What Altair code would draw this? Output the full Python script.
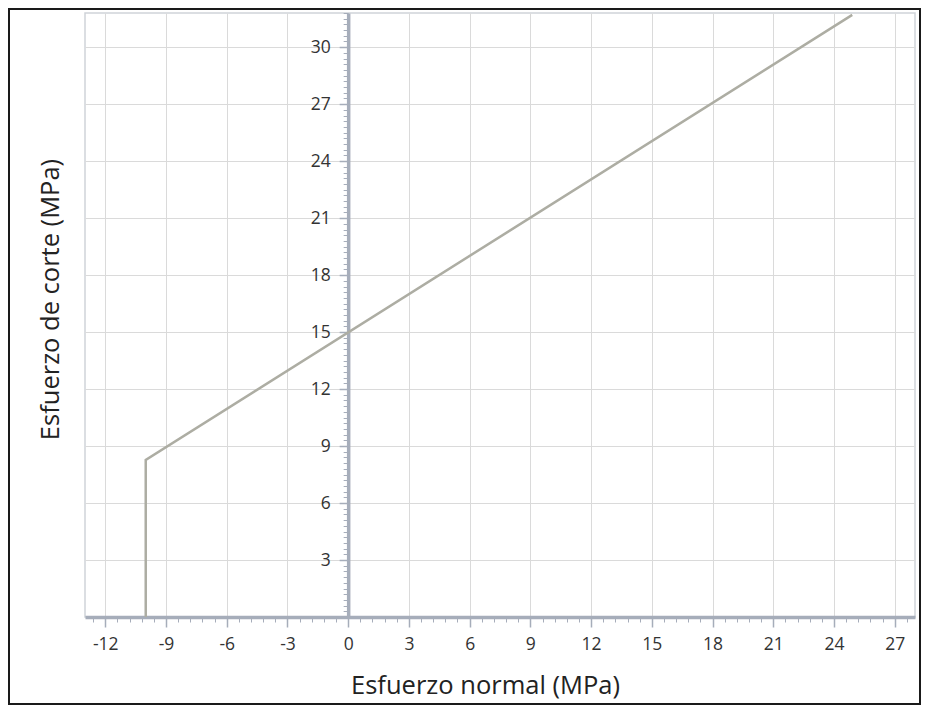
import altair as alt
import pandas as pd

# Mohr-Coulomb envelope with tension cut-off
normal_stress = [-10.0, -10.0, 24.9]
shear_stress = [0.0, 8.27, 31.7]
point_order = [0, 1, 2]

x_major = [-12, -9, -6, -3, 0, 3, 6, 9, 12, 15, 18, 21, 24, 27]
y_major = [3, 6, 9, 12, 15, 18, 21, 24, 27, 30]
x_minor = [round(k * 0.6, 1) for k in range(-21, 47)]
y_minor = [round(k * 0.3, 1) for k in range(1, 107)]

x_domain = [-13, 28]
y_domain = [0, 31.8]

W, H = 830, 604
FONT = "Open Sans"
AX = "#a6adba"
GRID = "#dadada"
LINE = "#adada3"
LABEL_EXPR = "'' + datum.value"

df = pd.DataFrame({"normal": normal_stress, "shear": shear_stress, "ord": point_order})
frame_df = pd.DataFrame({"k": [0]})

xs = alt.Scale(domain=x_domain, nice=False, zero=False)
ys = alt.Scale(domain=y_domain, nice=False, zero=False)
# move the y axis so that it crosses the x axis at zero
yoff = {"expr": "-scale('x', 0)"}

base = alt.Chart(df)

main = base.mark_line(color=LINE, strokeWidth=2.5).encode(
    x=alt.X("normal:Q", scale=xs, axis=alt.Axis(
        orient="bottom", values=x_major, labelExpr=LABEL_EXPR, title="Esfuerzo normal (MPa)",
        grid=True, gridColor=GRID, gridWidth=1,
        domainColor=AX, domainWidth=3.5, tickColor=AX, tickSize=10, tickWidth=1.5,
        labelPadding=8, labelFontSize=17.5, labelFlush=False, labelOverlap=False,
        titlePadding=21, titleX=400)),
    y=alt.Y("shear:Q", scale=ys, axis=alt.Axis(
        orient="left", values=y_major, grid=True, gridColor=GRID, gridWidth=1,
        domain=False, ticks=False, labels=False, title=None)),
    order=alt.Order("ord:Q"),
)

yaxis = base.mark_line(strokeOpacity=0).encode(
    x=alt.X("normal:Q", scale=xs, axis=alt.Axis(
        orient="bottom", values=x_minor, labels=False, domain=False, grid=False,
        tickColor=AX, tickSize=5, tickWidth=1, title=None)),
    y=alt.Y("shear:Q", scale=ys, axis=alt.Axis(
        orient="left", values=y_major, labelExpr=LABEL_EXPR, offset=yoff, grid=False,
        domainColor=AX, domainWidth=3.5, tickColor=AX, tickSize=9, tickWidth=1.5,
        labelPadding=9, labelFontSize=17.5, labelFlush=False, labelOverlap=False,
        title="Esfuerzo de corte (MPa)", titleX=-285, titleY=286)),
    order=alt.Order("ord:Q"),
)

yminor = base.mark_line(strokeOpacity=0).encode(
    x=alt.X("normal:Q", scale=xs, axis=None),
    y=alt.Y("shear:Q", scale=ys, axis=alt.Axis(
        orient="left", values=y_minor, offset=yoff, labels=False, domain=False,
        grid=False, tickColor=AX, tickSize=5, tickWidth=1, title=None)),
    order=alt.Order("ord:Q"),
)

frame = alt.Chart(frame_df).mark_rect(
    fillOpacity=0, stroke="#1a1a1a", strokeWidth=2
).encode(
    x=alt.value(-76), x2=alt.value(W + 5),
    y=alt.value(-4), y2=alt.value(H + 87),
)

chart = alt.layer(main, yaxis, yminor, frame).resolve_axis(
    x="independent", y="independent"
).properties(
    width=W, height=H,
    padding={"left": 77, "top": 5, "right": 6, "bottom": 88},
    autosize=alt.AutoSizeParams(type="none"),
).configure_view(
    stroke="#cfd3d9", strokeWidth=1.5
).configure_axis(
    labelFont=FONT, labelColor="#333333", titleFont=FONT, titleFontSize=25.5,
    titleFontWeight="normal", titleColor="#222222"
)

chart.save("out.html", embed_options={"renderer": "svg", "actions": False})
